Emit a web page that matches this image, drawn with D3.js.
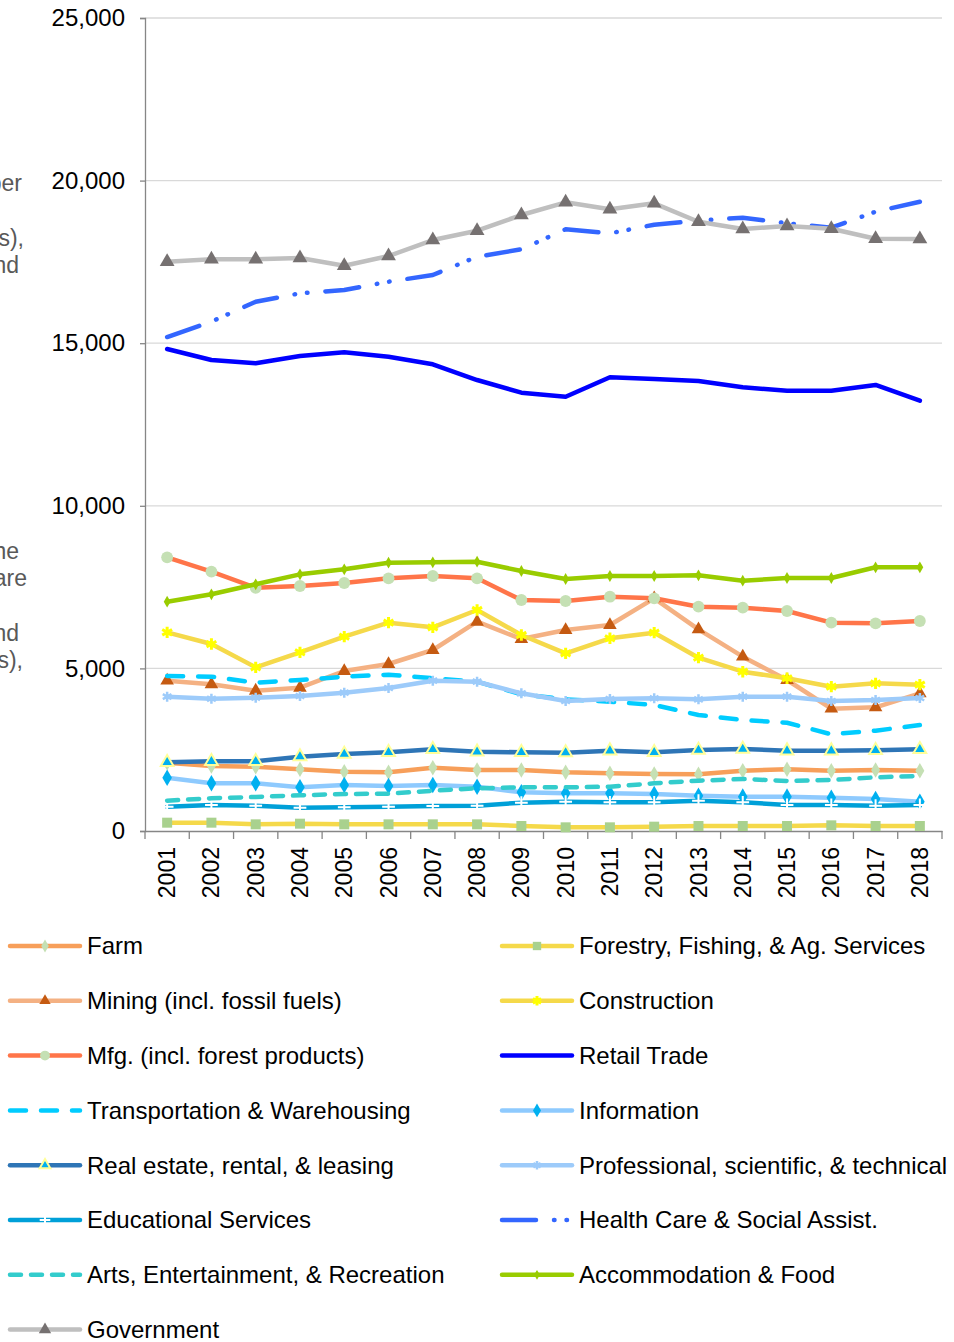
<!DOCTYPE html>
<head>
    <meta charset="utf-8" />
    <script src="https://d3js.org/d3.v7.min.js"></script>
    <style>
        body {
            margin: 0;
            background: #fff;
        }
        svg text {
            font-family: "Liberation Sans", Arial, sans-serif;
        }
    </style>
    <title>Employment by industry</title>
</head>

<body>
    <script>
        var width = 954,
            height = 1342;

        // data
        var years = ["2001", "2002", "2003", "2004", "2005", "2006", "2007", "2008", "2009",
            "2010", "2011", "2012", "2013", "2014", "2015", "2016", "2017", "2018"];

        var farm = [2100, 1999, 1977, 1897, 1824, 1805, 1946, 1876, 1876, 1805, 1774, 1753, 1743, 1854, 1897, 1854, 1876, 1854];
        var forestry = [256, 256, 205, 225, 205, 205, 205, 205, 154, 113, 113, 133, 154, 154, 154, 174, 154, 154];
        var mining = [4622, 4511, 4314, 4406, 4920, 5135, 5566, 6436, 5904, 6181, 6335, 7155, 6202, 5360, 4643, 3761, 3804, 4234];
        var construction = [6110, 5750, 5034, 5495, 5975, 6406, 6264, 6796, 6027, 5464, 5926, 6098, 5329, 4898, 4696, 4437, 4542, 4499];
        var mfg = [8416, 7974, 7481, 7534, 7626, 7770, 7841, 7770, 7103, 7073, 7205, 7155, 6898, 6867, 6765, 6406, 6386, 6458];
        var retail = [14822, 14483, 14382, 14606, 14720, 14585, 14351, 13868, 13478, 13355, 13951, 13899, 13838, 13644, 13539, 13539, 13715, 13232];
        var transport = [4766, 4745, 4560, 4643, 4745, 4806, 4696, 4591, 4204, 4050, 3976, 3875, 3567, 3413, 3330, 2974, 3084, 3260];
        var information = [1639, 1467, 1467, 1344, 1415, 1384, 1415, 1362, 1190, 1159, 1159, 1138, 1085, 1055, 1055, 1024, 984, 901];
        var realEstate = [2113, 2143, 2143, 2285, 2368, 2420, 2512, 2438, 2420, 2408, 2469, 2420, 2491, 2522, 2469, 2469, 2481, 2512];
        var professional = [4130, 4068, 4099, 4151, 4253, 4397, 4622, 4591, 4234, 3998, 4059, 4081, 4050, 4130, 4130, 3998, 4028, 4090];
        var education = [748, 800, 779, 717, 728, 748, 769, 779, 871, 902, 881, 881, 932, 881, 800, 800, 779, 800];
        var health = [15190, 15662, 16276, 16534, 16636, 16891, 17097, 17660, 17887, 18502, 18379, 18644, 18767, 18859, 18687, 18551, 19044, 19351];
        var arts = [932, 1006, 1046, 1098, 1138, 1147, 1239, 1313, 1344, 1344, 1362, 1467, 1547, 1599, 1538, 1568, 1651, 1691];
        var accommodation = [7051, 7279, 7586, 7893, 8047, 8250, 8263, 8281, 7995, 7749, 7841, 7841, 7863, 7697, 7780, 7780, 8109, 8109];
        var government = [17506, 17580, 17580, 17620, 17383, 17681, 18173, 18459, 18942, 19332, 19117, 19302, 18736, 18512, 18604, 18521, 18213, 18204];

        var yTicks = [0, 5000, 10000, 15000, 20000, 25000];

        // axis title, cut off by the left edge in the original
        var titleLines = [
            ["Jobs per", 183], ["(thousands),", 238], ["and", 265],
            ["the", 551], ["are", 578], ["and", 633], ["(dollars),", 660]
        ];
        var titleRight = [22, 24, 19, 19, 27, 19, 23];

        var symPlus = d3.symbolPlus || d3.symbolCross;
        var symAst = d3.symbolAsterisk || d3.symbolStar;

        // series in Excel order (legend reads row by row)
        var series = [
            { name: "Farm", values: farm, color: "#f79f5a", dash: null, sym: d3.symbolDiamond, size: 70, fill: "#c5e0b4" },
            { name: "Forestry, Fishing, & Ag. Services", values: forestry, color: "#f5d94a", dash: null, sym: d3.symbolSquare, size: 100, fill: "#a9d18e" },
            { name: "Mining (incl. fossil fuels)", values: mining, color: "#f4b183", dash: null, sym: d3.symbolTriangle, size: 80, fill: "#c55a11" },
            { name: "Construction", values: construction, color: "#f5d94a", dash: null, sym: symAst, size: 90, fill: "none", stroke: "#ffff00", sw: 3 },
            { name: "Mfg. (incl. forest products)", values: mfg, color: "#ff7549", dash: null, sym: d3.symbolCircle, size: 110, fill: "#c5e0b4" },
            { name: "Retail Trade", values: retail, color: "#0000ff", dash: null, sym: null },
            { name: "Transportation & Warehousing", values: transport, color: "#00ccff", dash: "16,15", sym: null },
            { name: "Information", values: information, color: "#8ecafe", dash: null, sym: d3.symbolDiamond, size: 80, fill: "#00b0f0" },
            { name: "Real estate, rental, & leasing", values: realEstate, color: "#2e75b6", dash: null, sym: d3.symbolTriangle, size: 70, fill: "#00b0f0", stroke: "#ffff99", sw: 2 },
            { name: "Professional, scientific, & technical", values: professional, color: "#9dcbfa", dash: null, sym: symAst, size: 70, fill: "none", stroke: "#9dcbfa", sw: 2.5 },
            { name: "Educational Services", values: education, color: "#00a0d8", dash: null, sym: symPlus, size: 55, fill: "none", stroke: "#ffffff", sw: 2 },
            { name: "Health Care & Social Assist.", values: health, color: "#3366ff", dash: "34,18,0.5,12,0.5,18", sym: null },
            { name: "Arts, Entertainment, & Recreation", values: arts, color: "#33cccc", dash: "11,10", sym: null },
            { name: "Accommodation & Food", values: accommodation, color: "#99cc00", dash: null, sym: d3.symbolDiamond, size: 40, fill: "#99cc00" },
            { name: "Government", values: government, color: "#bfbfbf", dash: null, sym: d3.symbolTriangle, size: 95, fill: "#767171" }
        ];

        var svg = d3.select("body").append("svg")
            .attr("width", width)
            .attr("height", height);

        var x = d3.scaleBand().domain(years).range([145, 942]);
        var y = d3.scaleLinear().domain([0, 25000]).range([831, 18]);
        var cx = d => x(d) + x.bandwidth() / 2;

        // gridlines
        svg.append("g").selectAll("line").data(yTicks.slice(1)).join("line")
            .attr("x1", 145).attr("x2", 942)
            .attr("y1", d => y(d)).attr("y2", d => y(d))
            .attr("stroke", "#d9d9d9").attr("stroke-width", 1.3);

        // y axis
        var yAxis = svg.append("g").attr("transform", "translate(145,0)")
            .call(d3.axisLeft(y).tickValues(yTicks).tickFormat(d3.format(",")).tickSize(5).tickPadding(15));
        yAxis.select(".domain").attr("stroke", "#868686").attr("stroke-width", 1.3);
        yAxis.selectAll(".tick line").attr("stroke", "#868686").attr("stroke-width", 1.3);
        yAxis.selectAll("text").attr("font-size", 24).attr("fill", "#000")
            .style("font-family", "'Liberation Sans', Arial, sans-serif");

        // x axis
        var xAxis = svg.append("g").attr("transform", "translate(0,831)")
            .call(d3.axisBottom(x).tickSize(0).tickSizeOuter(0));
        xAxis.select(".domain").attr("stroke", "#868686").attr("stroke-width", 1.3);
        xAxis.selectAll("text")
            .attr("font-size", 23).attr("fill", "#000")
            .style("font-family", "'Liberation Sans', Arial, sans-serif")
            .attr("text-anchor", "end")
            .attr("x", 0).attr("y", 0)
            .attr("dy", "0.35em")
            .attr("transform", "translate(0,16) rotate(-90)");
        var bounds = years.map(d => x(d)).concat([x.range()[1]]);
        svg.append("g").selectAll("line").data(bounds).join("line")
            .attr("x1", d => d).attr("x2", d => d)
            .attr("y1", 831).attr("y2", 839)
            .attr("stroke", "#868686").attr("stroke-width", 1.3);

        // clipped axis title
        svg.append("g").selectAll("text").data(titleLines).join("text")
            .attr("x", (d, i) => titleRight[i])
            .attr("y", d => d[1])
            .attr("dy", "0.35em")
            .attr("text-anchor", "end")
            .attr("font-size", 23)
            .attr("fill", "#595959")
            .text(d => d[0]);

        var line = d3.line().x((d, i) => cx(years[i])).y(d => y(d));

        function drawMarker(sel, s) {
            sel.attr("d", d3.symbol().type(s.sym).size(s.size))
                .attr("fill", s.fill)
                .attr("stroke", s.stroke || "none")
                .attr("stroke-width", s.sw || 0);
        }

        // series
        series.forEach(s => {
            var g = svg.append("g");
            g.append("path")
                .datum(s.values)
                .attr("d", line)
                .attr("fill", "none")
                .attr("stroke", s.color)
                .attr("stroke-width", 4.5)
                .attr("stroke-linejoin", "round")
                .attr("stroke-linecap", "round")
                .attr("stroke-dasharray", s.dash);
            if (s.sym) {
                g.selectAll("path.m").data(s.values).join("path")
                    .attr("class", "m")
                    .attr("transform", (d, i) => "translate(" + cx(years[i]) + "," + y(d) + ")")
                    .call(drawMarker, s);
            }
        });

        // legend
        var legend = svg.append("g");
        var item = legend.selectAll("g").data(series).join("g")
            .attr("transform", (d, i) => "translate(" + (i % 2 ? 502 : 10) + "," + (946 + Math.floor(i / 2) * 54.8) + ")");
        item.append("line")
            .attr("x1", 0).attr("x2", 70).attr("y1", 0).attr("y2", 0)
            .attr("stroke", d => d.color)
            .attr("stroke-width", 4.5)
            .attr("stroke-linecap", "round")
            .attr("stroke-dasharray", d => d.dash);
        item.filter(d => d.sym).append("path")
            .attr("transform", "translate(35,0)")
            .each(function (d) {
                d3.select(this).call(drawMarker, Object.assign({}, d, { size: d.size * 0.7 }));
            });
        item.append("text")
            .attr("x", 77).attr("y", 0).attr("dy", "0.35em")
            .attr("font-size", 24).attr("fill", "#000")
            .text(d => d.name);
    </script>
</body>
